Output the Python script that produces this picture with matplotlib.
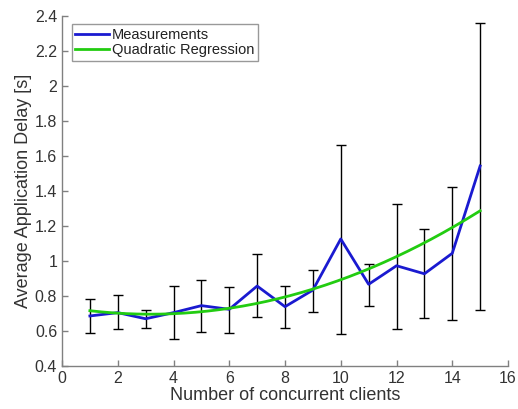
import numpy as np
import matplotlib
matplotlib.use("Agg")
import matplotlib.pyplot as plt

plt.rcParams['font.family'] = ['Liberation Sans', 'DejaVu Sans']

# Mean application delay per number of concurrent clients, with spread
clients = [1, 2, 3, 4, 5, 6, 7, 8, 9, 10, 11, 12, 13, 14, 15]
delay_mean = [0.686, 0.705, 0.670, 0.705, 0.745, 0.724, 0.857, 0.739,
              0.834, 1.126, 0.867, 0.973, 0.927, 1.044, 1.543]
delay_upper = [0.783, 0.807, 0.720, 0.859, 0.890, 0.850, 1.038, 0.859,
               0.949, 1.665, 0.985, 1.326, 1.181, 1.421, 2.362]
delay_lower = [0.590, 0.610, 0.615, 0.554, 0.596, 0.590, 0.678, 0.615,
               0.709, 0.585, 0.743, 0.613, 0.673, 0.661, 0.718]

# Fitted quadratic regression coefficients (a*x^2 + b*x + c)
quad_coeffs = [0.004224, -0.0268, 0.7386]

x = np.array(clients, dtype=float)
y = np.array(delay_mean)
err_low = y - np.array(delay_lower)
err_high = np.array(delay_upper) - y

fig = plt.figure(figsize=(5.18, 4.09), dpi=100)
ax = fig.add_axes([0.1197, 0.1051, 0.8610, 0.8558])

ax.errorbar(x, y, yerr=[err_low, err_high], fmt='none', ecolor='black',
            elinewidth=1.0, capsize=3.5, capthick=1.0, zorder=2)
line_meas, = ax.plot(x, y, color='#1a1ad0', lw=2.0, label='Measurements', zorder=3)
xf = np.linspace(x[0], x[-1], 200)
line_fit, = ax.plot(xf, np.polyval(quad_coeffs, xf), color='#22cc11', lw=2.0,
                    label='Quadratic Regression', zorder=4)

ax.set_xlim(0, 16)
ax.set_ylim(0.4, 2.4)
ax.set_xticks(np.arange(0, 17, 2))
ax.set_yticks(np.arange(0.4, 2.41, 0.2))
ax.set_yticklabels(['0.4', '0.6', '0.8', '1', '1.2', '1.4', '1.6', '1.8', '2', '2.2', '2.4'])

for side in ('top', 'right'):
    ax.spines[side].set_visible(False)
for side in ('left', 'bottom'):
    ax.spines[side].set_color('#808080')
    ax.spines[side].set_linewidth(1.0)
ax.tick_params(direction='in', length=4, color='#808080', labelsize=11.5,
               labelcolor='#333333', width=1.0)

ax.set_xlabel('Number of concurrent clients', fontsize=13, color='#333333', labelpad=1)
ax.set_ylabel('Average Application Delay [s]', fontsize=13, color='#333333', labelpad=2)

leg = ax.legend(handles=[line_meas, line_fit], loc='upper left',
                bbox_to_anchor=(0.022, 0.977), fontsize=10.5, frameon=True,
                fancybox=False, handlelength=2.3, handletextpad=0.2,
                borderpad=0.25, labelspacing=0.1, borderaxespad=0.0)
leg.get_frame().set_edgecolor('#808080')
leg.get_frame().set_linewidth(1.0)
for t in leg.get_texts():
    t.set_color('#222222')

fig.savefig('out.png', dpi=100)
